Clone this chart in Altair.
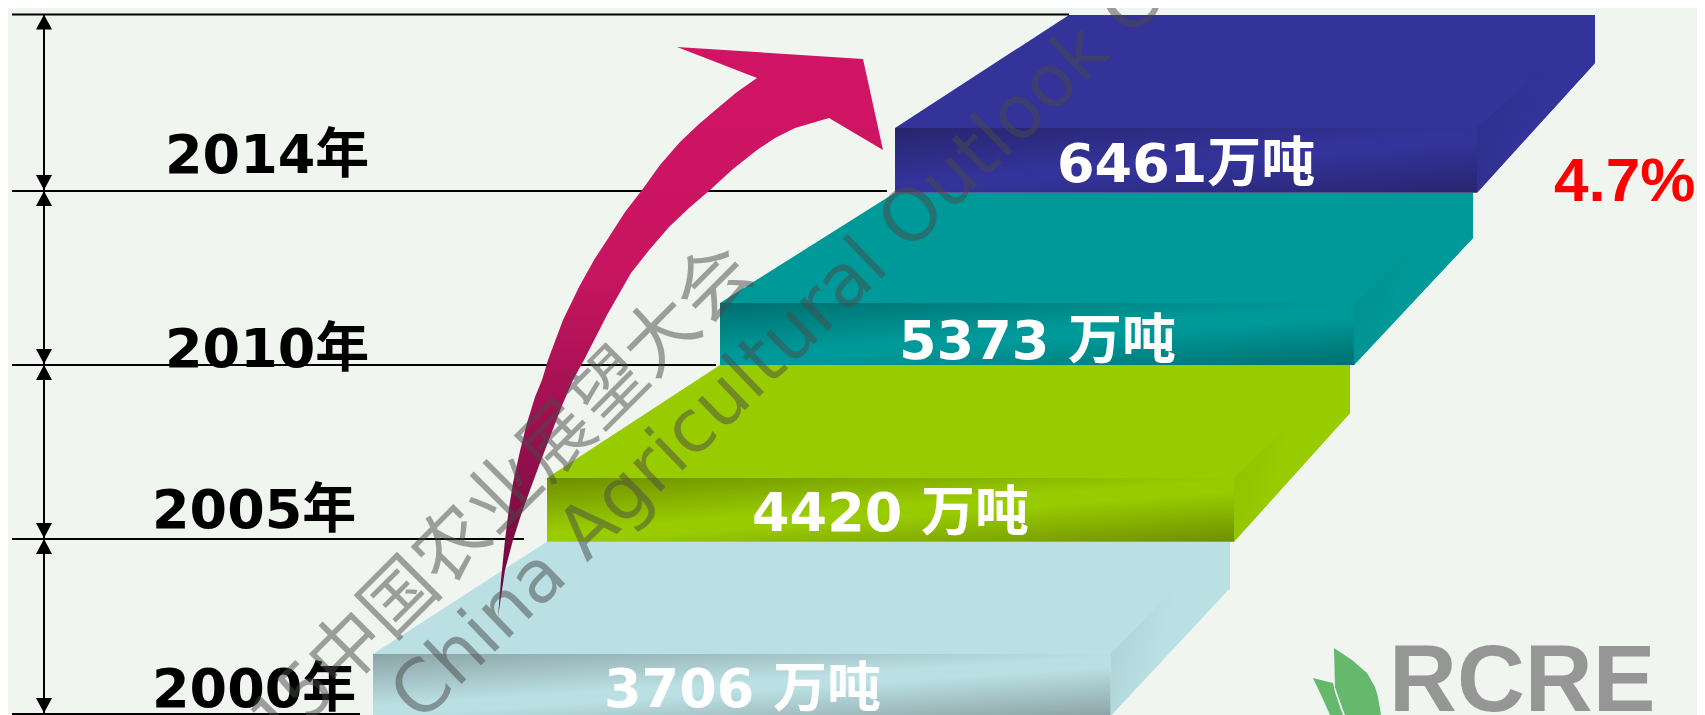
import altair as alt
import pandas as pd

# ---- values ----
years = ["2014年", "2010年", "2005年", "2000年"]
tonnes = ["6461万吨", "5373 万吨", "4420 万吨", "3706 万吨"]
growth = "4.7%"
watermarks = ["2015中国农业展望大会", "China Agricultural Outlook Conference"]

# ---- drawing geometry (pixels of the picture) ----
X0, X1, Y0, Y1 = 8, 1697, 8, 715
W, H = X1 - X0, Y1 - Y0
x_scale = alt.Scale(domain=[X0, X1], nice=False, zero=False)
y_scale = alt.Scale(domain=[Y1, Y0], nice=False, zero=False)
X = alt.X("x:Q", scale=x_scale, axis=None)
Y = alt.Y("y:Q", scale=y_scale, axis=None)
X2 = alt.X2("x2:Q")
Y2 = alt.Y2("y2:Q")

steps = [
    dict(fl=895, fr=1477, ft=128, fb=192.7, bl=1069, br=1595, bt=15, bc=63, fx=1555, fy=57,
         base="#333399", dark="#28256F", side="#2E2E8A"),
    dict(fl=720, fr=1354, ft=303, fb=365, bl=895, br=1473, bt=192.7, bc=238, fx=1431, fy=230,
         base="#009999", dark="#006F6F", side="#008F8F"),
    dict(fl=547, fr=1234, ft=478, fb=541.7, bl=720, br=1350, bt=365, bc=413, fx=1318, fy=397,
         base="#99CC00", dark="#6E8F00", side="#8FBF00"),
    dict(fl=373, fr=1110.5, ft=654, fb=716, bl=547, br=1230, bt=541.7, bc=588, fx=1205, fy=558,
         base="#BAE0E3", dark="#8CA3A6", side="#ABCFD2"),
]


def polygon(points, **style):
    df = pd.DataFrame(points, columns=["x", "y"]).reset_index()
    return alt.Chart(df).mark_line(clip=True, strokeWidth=0, **style).encode(
        x=X, y=Y, order="index:Q")


layers = []
for s in reversed(steps):
    layers.append(polygon([(s["fl"], s["ft"]), (s["bl"], s["bt"]), (s["br"], s["bt"]),
                           (s["br"], s["bc"]), (s["fr"], s["fb"]), (s["fr"], s["ft"])],
                          fill=s["base"]))
    layers.append(polygon([(s["fr"], s["ft"]), (s["fx"], s["fy"]), (s["br"], s["bc"]), (s["fr"], s["fb"])],
                          fill=alt.Gradient(gradient="linear", x1=0, y1=0, x2=1, y2=0.35,
                                            stops=[alt.GradientStop(color=s["side"], offset=0),
                                                   alt.GradientStop(color=s["base"], offset=0.55),
                                                   alt.GradientStop(color=s["base"], offset=1)])))
    layers.append(alt.Chart(pd.DataFrame([dict(x=s["fl"], x2=s["fr"], y=s["ft"], y2=s["fb"])]))
                  .mark_rect(clip=True,
                             fill=alt.Gradient(gradient="linear", x1=0, y1=0, x2=0.891, y2=1.089,
                                               stops=[alt.GradientStop(color=s["dark"], offset=0),
                                                      alt.GradientStop(color=s["base"], offset=0.47),
                                                      alt.GradientStop(color=s["base"], offset=0.56),
                                                      alt.GradientStop(color=s["dark"], offset=1)]))
                  .encode(x=X, x2=X2, y=Y, y2=Y2))

# horizontal lines and double arrows
rules = pd.DataFrame(dict(x=[12, 12, 12, 12, 12], x2=[1069, 887, 716, 524, 360],
                          y=[14.5, 191, 365, 539, 714]))
layers.append(alt.Chart(rules).mark_rule(color="#000000", strokeWidth=2, clip=True)
              .encode(x=X, x2=X2, y=Y))
levels = [14.5, 191, 365, 539, 714]
arrows = pd.DataFrame(dict(x=[44] * 4, y=levels[:-1], y2=levels[1:]))
layers.append(alt.Chart(arrows).mark_rule(color="#000000", strokeWidth=2).encode(x=X, y=Y, y2=Y2))
for top, bot in zip(levels[:-1], levels[1:]):
    layers.append(polygon([(44, top), (36, top + 15), (52, top + 15)], fill="#000000"))
    layers.append(polygon([(44, bot - 1), (36, bot - 16), (52, bot - 16)], fill="#000000"))

# big curved arrow
arrow_outer = [(498, 617), (501, 580), (505, 540), (509, 508), (513, 483), (520, 451), (527, 423),
               (535, 397), (542, 380), (548, 360), (563, 320), (579, 287), (594, 260), (609, 237),
               (625, 212), (642, 190), (660, 165), (680, 142), (699, 124), (719, 107), (737, 92),
               (757, 78)]
arrow_head = [(677, 47), (863, 59), (883, 150)]
arrow_inner = [(829, 118), (795, 128), (775, 138), (757, 150), (733, 169), (710, 190), (689, 208),
               (669, 227), (650, 249), (631, 273), (607, 315), (584, 360), (573, 380), (561, 408),
               (550, 437), (540, 463), (530, 490), (521, 515), (513, 540), (505, 570)]
layers.append(polygon(arrow_outer + arrow_head + arrow_inner,
                      fill=alt.Gradient(gradient="linear", x1=0, y1=0, x2=0, y2=1,
                                        stops=[alt.GradientStop(color="#D11465", offset=0),
                                               alt.GradientStop(color="#C81560", offset=0.4),
                                               alt.GradientStop(color="#640A3A", offset=1)])))

# logo
layers.append(polygon([(1313, 678), (1333, 683), (1335, 692), (1340, 707), (1343, 715), (1330, 715),
                       (1322, 697)], fill="#65B86C"))
layers.append(polygon([(1334, 648), (1352, 660), (1367, 673), (1375, 687), (1378, 697), (1381, 715),
                       (1345, 715), (1343, 710), (1335, 687)], fill="#65B86C"))


def label(text, x, y, size, color, family="DejaVu Sans, Noto Sans CJK SC", weight="bold", align="left", **kw):
    df = pd.DataFrame([dict(x=x, y=y, t=text)])
    return alt.Chart(df).mark_text(align=align, baseline="alphabetic", font=family, fontSize=size,
                                   fontWeight=weight, color=color, **kw).encode(x=X, y=Y, text="t:N")


for t, x, y in zip(years, [165, 165, 152, 152], [173, 367, 528, 706.7]):
    layers.append(label(t, x, y, 54, "#000000"))
for t, x, y in zip(tonnes, [1057, 899, 752, 604], [182, 359, 531, 707]):
    layers.append(label(t, x, y, 54, "#FFFFFF"))
layers.append(label(growth, 1554, 200.7, 62, "#FF0000", family="Liberation Sans"))
layers.append(label("RCRE", 1389, 711, 94, "#969696", family="Liberation Sans"))

# watermark
layers.append(label(watermarks[0], 757, 275, 74, "#4A4A4A", family="Noto Sans CJK SC", weight="normal",
                    align="right", angle=315, opacity=0.5))
layers.append(label(watermarks[1], 420, 724, 73, "#4A4A4A", family="DejaVu Sans", weight="normal",
                    angle=316, opacity=0.5))

chart = alt.layer(*layers).properties(
    width=W, height=H, padding=0, background="#F0F5EF",
    autosize=alt.AutoSizeParams(type="none"),
).configure_view(stroke=None)

chart.save("out.html", embed_options={"renderer": "svg", "actions": False})
